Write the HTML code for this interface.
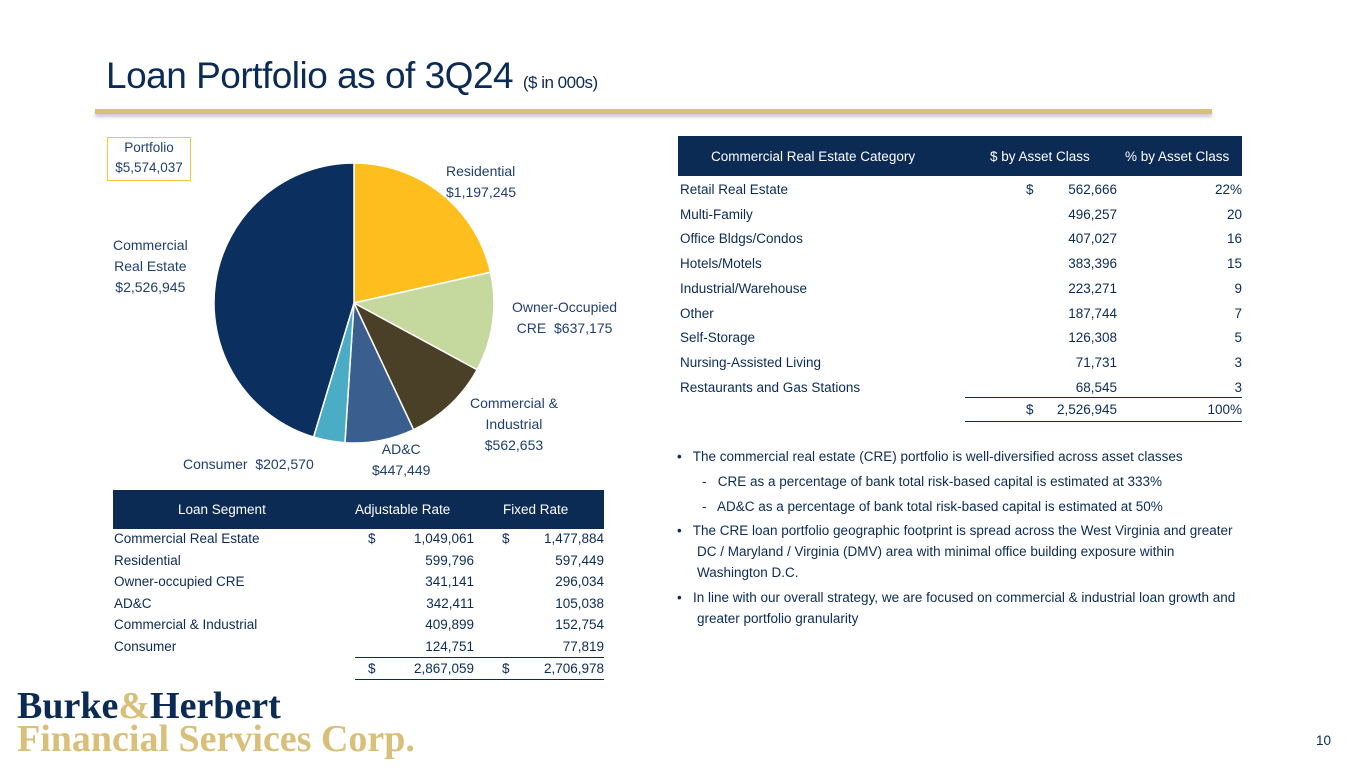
<!DOCTYPE html>
<html><head><meta charset="utf-8">
<style>
body{margin:0;width:1365px;height:768px;background:#fff;position:relative;overflow:hidden;font-family:"Liberation Sans",sans-serif;color:#0b2b55}
.a{position:absolute;white-space:nowrap}
.t{font-size:13.5px;color:#0b2b55}
.lbl{font-size:14px;color:#1f3f6e;text-align:center;line-height:21px}
.r{text-align:right}
</style></head><body>
<div class="a" style="left:106px;top:55px;font-size:37px;color:#0b2b55;letter-spacing:-0.5px">Loan Portfolio as of 3Q24 <span style="font-size:17px">($ in 000s)</span></div>
<div class="a" style="left:95px;top:109px;width:1117px;height:5px;background:#d8bf7a;box-shadow:0 3px 3px #c9c9d9"></div>

<div class="a lbl" style="left:107px;top:137px;width:82px;height:42px;border:1.5px solid #f5c542;font-size:13.5px;line-height:20px">Portfolio<br>$5,574,037</div>

<svg class="a" style="left:0;top:0" width="700" height="480" id="pie"></svg>

<div class="a lbl" style="left:446px;top:161px;text-align:left">Residential<br>$1,197,245</div>
<div class="a lbl" style="left:512px;top:297px">Owner-Occupied<br>CRE&nbsp; $637,175</div>
<div class="a lbl" style="left:470px;top:393px">Commercial &amp;<br>Industrial<br>$562,653</div>
<div class="a lbl" style="left:372px;top:439px">AD&amp;C<br>$447,449</div>
<div class="a lbl" style="left:183px;top:454px">Consumer&nbsp; $202,570</div>
<div class="a lbl" style="left:113px;top:235px">Commercial<br>Real Estate<br>$2,526,945</div>

<div class="a" style="left:678px;top:136px;width:564px;height:40px;background:#0b2b55"></div>
<div class="a t" style="left:711px;top:149px;color:#fff">Commercial Real Estate Category</div>
<div class="a t" style="left:990px;top:149px;color:#fff">$ by Asset Class</div>
<div class="a t" style="left:1125px;top:149px;color:#fff">% by Asset Class</div>
<div id="cre"></div>
<div class="a" style="left:965px;top:397px;width:277px;height:1px;background:#0b2b55"></div>
<div class="a t" style="left:1026px;top:402px">$</div>
<div class="a t r" style="left:1000px;width:117px;top:402px">2,526,945</div>
<div class="a t r" style="left:1150px;width:92px;top:402px">100%</div>
<div class="a" style="left:965px;top:421px;width:277px;height:1px;background:#0b2b55"></div>

<div class="a" style="left:113px;top:490px;width:491px;height:39px;background:#0b2b55"></div>
<div class="a t" style="left:178px;top:502px;color:#fff">Loan Segment</div>
<div class="a t" style="left:355px;top:502px;color:#fff">Adjustable Rate</div>
<div class="a t" style="left:503px;top:502px;color:#fff">Fixed Rate</div>
<div id="seg"></div>
<div class="a" style="left:355px;top:657px;width:249px;height:1px;background:#0b2b55"></div>
<div class="a t" style="left:368px;top:661px">$</div>
<div class="a t r" style="left:380px;width:94px;top:661px">2,867,059</div>
<div class="a t" style="left:502px;top:661px">$</div>
<div class="a t r" style="left:510px;width:94px;top:661px">2,706,978</div>
<div class="a" style="left:355px;top:679px;width:249px;height:1px;background:#0b2b55"></div>

<div class="a t" style="left:677px;top:446px;line-height:21px;white-space:normal;width:570px">
<div>•&nbsp;&nbsp; The commercial real estate (CRE) portfolio is well-diversified across asset classes</div>
<div style="margin:4px 0 0 25px">-&nbsp;&nbsp; CRE as a percentage of bank total risk-based capital is estimated at 333%</div>
<div style="margin:4px 0 0 25px">-&nbsp;&nbsp; AD&amp;C as a percentage of bank total risk-based capital is estimated at 50%</div>
<div style="margin-top:3px;padding-left:20px;text-indent:-20px">•&nbsp;&nbsp; The CRE loan portfolio geographic footprint is spread across the West Virginia and greater DC / Maryland / Virginia (DMV) area with minimal office building exposure within Washington D.C.</div>
<div style="margin-top:4px;padding-left:20px;text-indent:-20px">•&nbsp;&nbsp; In line with our overall strategy, we are focused on commercial &amp; industrial loan growth and greater portfolio granularity</div>
</div>

<div class="a" style="left:17px;top:690px;font-family:'Liberation Serif',serif;font-weight:bold;font-size:38px;line-height:33px;letter-spacing:0px">
<div style="color:#0b2b55">Burke<span style="color:#d8bf7a">&amp;</span>Herbert</div>
<div style="color:#d8bf7a">Financial Services Corp.</div></div>
<div class="a t" style="left:1316px;top:733px">10</div>

<script>
const sliceNames=["Residential","Owner-Occupied CRE","Commercial & Industrial","AD&C","Consumer","Commercial Real Estate"];
const sliceValues=[1197245,637175,562653,447449,202570,2526945];
const sliceColors=["#fdbe1e","#c5d89e","#4a3f27","#3a5e8e","#4bacc6","#0b2f5e"];
const creCats=["Retail Real Estate","Multi-Family","Office Bldgs/Condos","Hotels/Motels","Industrial/Warehouse","Other","Self-Storage","Nursing-Assisted Living","Restaurants and Gas Stations"];
const creVals=["562,666","496,257","407,027","383,396","223,271","187,744","126,308","71,731","68,545"];
const crePct=["22%","20","16","15","9","7","5","3","3"];
const segNames=["Commercial Real Estate","Residential","Owner-occupied CRE","AD&C","Commercial & Industrial","Consumer"];
const segAdj=["1,049,061","599,796","341,141","342,411","409,899","124,751"];
const segFix=["1,477,884","597,449","296,034","105,038","152,754","77,819"];

const svg=document.getElementById('pie');
const cx=354,cy=303,R=140;
const total=sliceValues.reduce((a,b)=>a+b,0);
let ang=0;
sliceValues.forEach((v,i)=>{
  const a0=ang,a1=ang+v/total*2*Math.PI;ang=a1;
  const x0=cx+R*Math.sin(a0),y0=cy-R*Math.cos(a0),x1=cx+R*Math.sin(a1),y1=cy-R*Math.cos(a1);
  const p=document.createElementNS('http://www.w3.org/2000/svg','path');
  p.setAttribute('d',`M${cx},${cy}L${x0},${y0}A${R},${R} 0 ${a1-a0>Math.PI?1:0} 1 ${x1},${y1}Z`);
  p.setAttribute('fill',sliceColors[i]);p.setAttribute('stroke','#fff');p.setAttribute('stroke-width','1.5');
  
  
  svg.appendChild(p);
});
function txt(parent,s,l,t,w,right){const d=document.createElement('div');d.className='a t'+(right?' r':'');d.style.left=l+'px';d.style.top=t+'px';if(w)d.style.width=w+'px';d.textContent=s;parent.appendChild(d);return d;}
const cre=document.getElementById('cre');
creCats.forEach((c,i)=>{
  const y=182+i*24.7;
  const row=txt(cre,c,680,y);
  
  
  if(i==0)txt(cre,'$',1026,y);
  txt(cre,creVals[i],1000,y,117,true);
  txt(cre,crePct[i],1150,y,92,true);
});
const seg=document.getElementById('seg');
segNames.forEach((c,i)=>{
  const y=531+i*21.6;
  const row=txt(seg,c,114,y);
  
  
  if(i==0){txt(seg,'$',368,y);txt(seg,'$',502,y);}
  txt(seg,segAdj[i],380,y,94,true);
  txt(seg,segFix[i],510,y,94,true);
});
</script>
</body></html>
